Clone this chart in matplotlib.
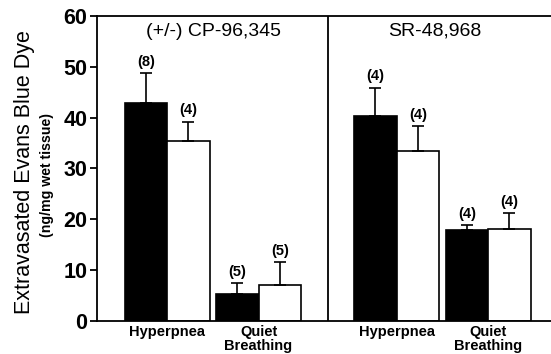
import matplotlib.pyplot as plt
import numpy as np

plt.rcParams['font.family'] = ['Liberation Sans', 'DejaVu Sans']

# data
panels = ["(+/-) CP-96,345", "SR-48,968"]
conditions = ["Hyperpnea", "Quiet\nBreathing"]
black_mean = [42.8, 5.3, 40.3, 17.9]
black_err = [6.0, 2.1, 5.6, 0.9]
black_n = ["(8)", "(5)", "(4)", "(4)"]
white_mean = [35.3, 7.0, 33.5, 18.0]
white_err = [3.9, 4.6, 4.8, 3.2]
white_n = ["(4)", "(5)", "(4)", "(4)"]

centers = np.array([1.65, 3.8, 7.05, 9.2])
w = 1.0

fig = plt.figure(figsize=(5.51, 3.54), dpi=100)
ax = fig.add_axes([97/551, 1-320.7/354, 1-97/551, (320.7-16)/354])

ax.bar(centers - w/2, black_mean, w, color='black', edgecolor='black', linewidth=1.2,
       yerr=[np.zeros(4), black_err], capsize=4.5,
       error_kw=dict(ecolor='black', elinewidth=1.2, capthick=1.2), zorder=2)
ax.bar(centers + w/2, white_mean, w, color='white', edgecolor='black', linewidth=1.2,
       yerr=[np.zeros(4), white_err], capsize=4.5,
       error_kw=dict(ecolor='black', elinewidth=1.2, capthick=1.2), zorder=2)

for i in range(4):
    ax.annotate(black_n[i], (centers[i] - w/2, black_mean[i] + black_err[i]),
                xytext=(0, 3), textcoords='offset points', ha='center', va='bottom',
                fontsize=10.5, fontweight='bold')
    ax.annotate(white_n[i], (centers[i] + w/2, white_mean[i] + white_err[i]),
                xytext=(0, 3), textcoords='offset points', ha='center', va='bottom',
                fontsize=10.5, fontweight='bold')

ax.axvline(5.435, color='black', linewidth=1.3)
ax.set_xlim(0, 10.68)
ax.set_ylim(0, 60)
ax.set_yticks(np.arange(0, 61, 10))
ax.tick_params(axis='y', labelsize=15.5, direction='out', length=5, width=1.3, pad=2)
for t in ax.get_yticklabels():
    t.set_fontweight('bold')
ax.set_xticks(centers)
ax.set_xticklabels(conditions * 2, fontsize=10.5, fontweight='bold', linespacing=1.0)
ax.tick_params(axis='x', length=0, pad=3)
ax.spines['right'].set_visible(False)
for s in ['left', 'top', 'bottom']:
    ax.spines[s].set_linewidth(1.3)

ax.text(2.75, 57.0, panels[0], ha='center', va='center', fontsize=14)
ax.text(7.95, 57.0, panels[1], ha='center', va='center', fontsize=14)

fig.text(25/551, 1-172/354, "Extravasated Evans Blue Dye", rotation=90,
         ha='center', va='center', fontsize=15.5)
fig.text(47/551, 1-175/354, "(ng/mg wet tissue)", rotation=90,
         ha='center', va='center', fontsize=10.2, fontweight='bold')

fig.savefig('out.png', dpi=100)
